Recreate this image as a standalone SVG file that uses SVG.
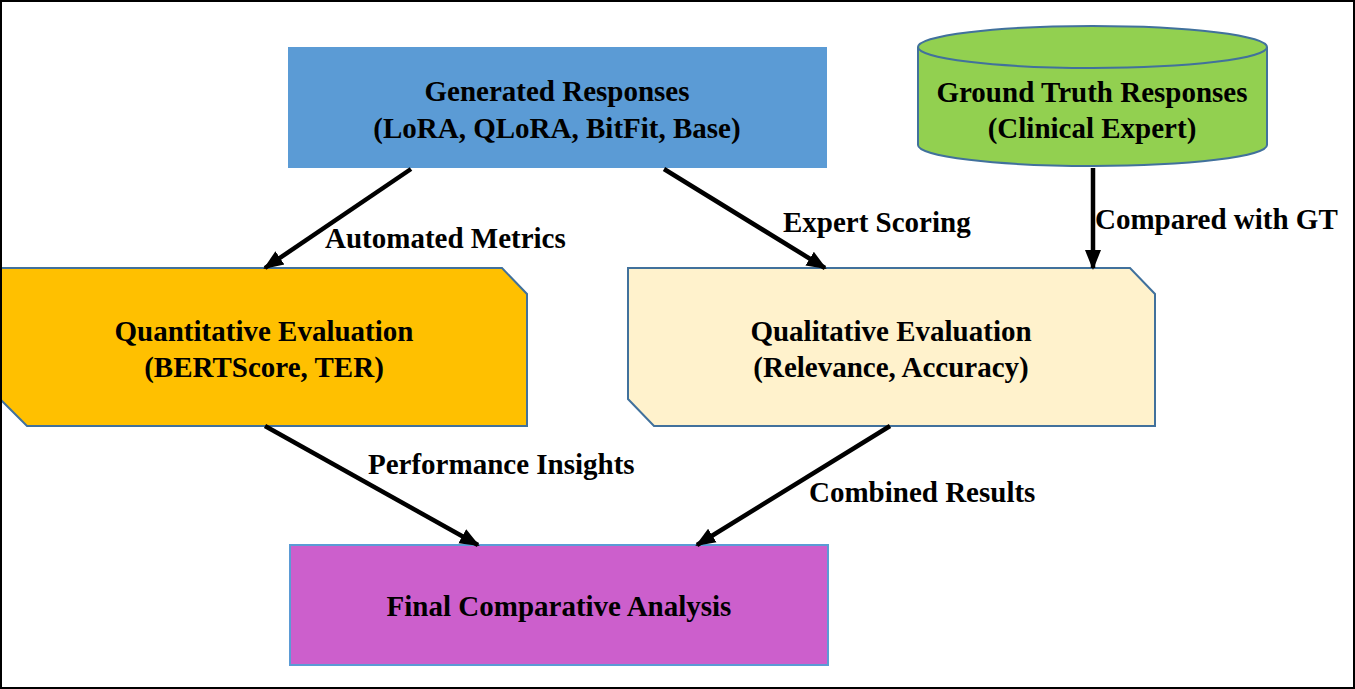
<svg xmlns="http://www.w3.org/2000/svg" width="1355" height="689" viewBox="0 0 1355 689">
<defs>
<style>
.t{font-family:"Liberation Serif","Times New Roman",serif;font-weight:bold;font-size:29px;fill:#000;text-anchor:middle}
.l{font-family:"Liberation Serif","Times New Roman",serif;font-weight:bold;font-size:29px;fill:#000}
.c{stroke:#000;stroke-width:4.5;fill:none;marker-end:url(#ah)}
</style>
<marker id="ah" markerUnits="userSpaceOnUse" markerWidth="20" markerHeight="18" refX="18" refY="8" orient="auto" viewBox="0 0 20 16">
<path d="M0,0 L20,8 L0,16 Z" fill="#000"/>
</marker>
</defs>
<rect x="0" y="0" width="1355" height="689" fill="#fff"/>
<g id="generated">
<rect x="288" y="47" width="539" height="121" fill="#5B9BD5"/>
<text class="t" x="557" y="101">Generated Responses</text>
<text class="t" x="557" y="138">(LoRA, QLoRA, BitFit, Base)</text>
</g>
<g id="groundtruth">
<path d="M918,47 L918,145 A174.5,21 0 0 0 1267,145 L1267,47" fill="#92D050" stroke="#41719C" stroke-width="2"/>
<ellipse cx="1092.5" cy="47" rx="174.5" ry="21" fill="#92D050" stroke="#41719C" stroke-width="2"/>
<text class="t" x="1092" y="102">Ground Truth Responses</text>
<text class="t" x="1092" y="138">(Clinical Expert)</text>
</g>
<g id="quantitative">
<path d="M0,268 L502,268 L527,294 L527,426 L27,426 L0,399 Z" fill="#FFC000" stroke="#41719C" stroke-width="2"/>
<text class="t" x="264" y="341">Quantitative Evaluation</text>
<text class="t" x="264" y="377">(BERTScore, TER)</text>
</g>
<g id="qualitative">
<path d="M628,268 L1130,268 L1155,294 L1155,426 L654,426 L628,399 Z" fill="#FFF2CC" stroke="#41719C" stroke-width="2"/>
<text class="t" x="891" y="341">Qualitative Evaluation</text>
<text class="t" x="891" y="377">(Relevance, Accuracy)</text>
</g>
<g id="final">
<rect x="290" y="545" width="538" height="120" fill="#CC5FCC" stroke="#5B9BD5" stroke-width="2"/>
<text class="t" x="559" y="616">Final Comparative Analysis</text>
</g>
<g id="connectors">
<line class="c" x1="411" y1="169" x2="265" y2="268"/>
<line class="c" x1="664" y1="169" x2="825" y2="268"/>
<line class="c" x1="1093" y1="168" x2="1093" y2="268"/>
<line class="c" x1="265" y1="426" x2="478" y2="545"/>
<line class="c" x1="890" y1="426" x2="697" y2="545"/>
<text class="l" x="325" y="248">Automated Metrics</text>
<text class="l" x="783" y="232">Expert Scoring</text>
<text class="l" x="1095" y="229">Compared with GT</text>
<text class="l" x="368" y="474">Performance Insights</text>
<text class="l" x="809" y="502">Combined Results</text>
</g>
<rect x="1" y="1" width="1353" height="687" fill="none" stroke="#000" stroke-width="2"/>
</svg>
